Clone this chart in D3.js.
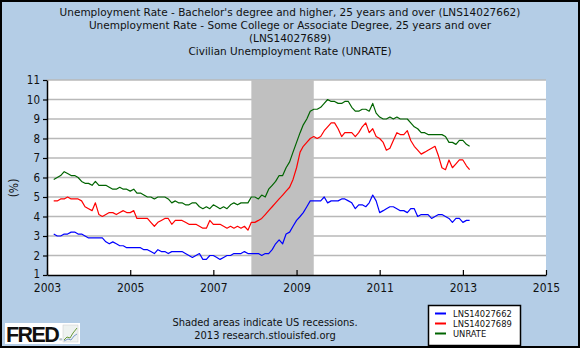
<!DOCTYPE html>
<html><head><meta charset="utf-8">
<script src="https://cdn.jsdelivr.net/npm/d3@7"></script>
<style>html,body{margin:0;padding:0;background:#fff;} svg{display:block;}</style>
</head><body>
<svg id="chart" width="580" height="348"></svg>
<script>
const titleLines = [
  "Unemployment Rate - Bachelor's degree and higher, 25 years and over (LNS14027662)",
  "Unemployment Rate - Some College or Associate Degree, 25 years and over",
  "(LNS14027689)",
  "Civilian Unemployment Rate (UNRATE)"
];
const startMonth = "2003-03-01";
const bachelors = [
  3.1,3.0,3.0,3.1,3.1,3.2,3.2,3.1,3.1,3.0,
  2.9,2.9,2.9,2.9,2.9,2.7,2.6,2.7,2.6,2.5,2.5,2.4,
  2.4,2.4,2.4,2.4,2.3,2.3,2.2,2.1,2.3,2.2,2.2,2.1,
  2.2,2.2,2.2,2.2,2.1,2.0,1.9,2.0,2.1,1.8,1.8,2.0,
  2.0,1.9,1.8,1.9,2.0,2.0,2.1,2.1,2.1,2.2,2.1,2.1,
  2.1,2.1,2.0,2.1,2.1,2.3,2.6,2.8,2.6,3.1,3.2,3.5,
  3.8,4.0,4.2,4.5,4.8,4.8,4.8,4.8,5.0,4.7,4.8,4.8,
  4.8,4.9,4.9,4.8,4.7,4.4,4.6,4.6,4.5,4.7,5.1,4.8,
  4.2,4.3,4.4,4.5,4.5,4.4,4.3,4.3,4.2,4.4,4.4,4.0,
  4.1,4.1,4.1,3.9,4.0,4.1,4.1,4.0,3.9,3.7,3.9,3.9,
  3.7,3.8,3.8
];
const someCollege = [
  4.8,4.8,4.9,4.9,5.0,4.9,4.9,4.9,4.8,4.5,
  4.4,4.3,4.7,4.1,4.0,4.1,4.2,4.2,4.1,4.2,4.3,4.2,
  4.2,4.3,3.9,3.9,3.9,3.9,3.7,3.5,3.7,3.8,3.9,3.9,
  3.6,3.8,3.8,3.8,3.7,3.6,3.6,3.6,3.5,3.4,3.4,3.8,
  3.6,3.6,3.6,3.5,3.4,3.5,3.4,3.5,3.4,3.5,3.3,3.7,
  3.7,3.8,3.9,4.1,4.3,4.5,4.7,4.9,5.1,5.3,5.5,5.9,
  6.5,7.3,7.6,7.8,8.0,8.1,8.0,8.1,8.4,8.6,8.8,8.8,
  8.5,8.1,8.3,8.3,8.3,8.1,8.3,8.6,8.8,8.3,8.5,8.1,
  8.0,7.8,7.4,7.5,7.9,8.3,8.2,8.2,8.4,7.9,7.6,7.4,
  7.2,7.3,7.4,7.5,7.6,7.1,6.5,6.4,6.9,6.5,6.7,6.9,
  6.9,6.6,6.4
];
const unrate = [
  5.9,6.0,6.1,6.3,6.2,6.1,6.1,6.0,5.8,5.7,
  5.7,5.6,5.8,5.6,5.6,5.6,5.5,5.4,5.4,5.5,5.4,5.4,
  5.3,5.4,5.2,5.2,5.1,5.0,5.0,4.9,5.0,5.0,5.0,4.9,
  4.7,4.8,4.7,4.7,4.6,4.6,4.7,4.7,4.5,4.4,4.5,4.4,
  4.6,4.5,4.4,4.5,4.4,4.6,4.7,4.6,4.7,4.7,4.7,5.0,
  5.0,4.9,5.1,5.0,5.4,5.6,5.8,6.1,6.1,6.5,6.8,7.3,
  7.8,8.3,8.7,9.0,9.4,9.5,9.5,9.6,9.8,10.0,9.9,9.9,
  9.8,9.8,9.9,9.9,9.6,9.4,9.4,9.5,9.5,9.4,9.8,9.3,
  9.1,9.0,9.0,9.1,9.0,9.1,9.0,9.0,9.0,8.8,8.6,8.5,
  8.3,8.3,8.2,8.2,8.2,8.2,8.2,8.1,7.8,7.8,7.7,7.9,
  7.9,7.7,7.6
];
const recessions = [["2007-12-01", "2009-06-01"]];
const yTicks = [1,2,3,4,5,6,7,8,9,10,11];
const xTickYears = ["2003","2005","2007","2009","2011","2013","2015"];
const legendLabels = ["LNS14027662","LNS14027689","UNRATE"];
const seriesColors = ["#0000ff","#ff0000","#006400"];
const footnotes = ["Shaded areas indicate US recessions.","2013 research.stlouisfed.org"];

const FONT = "'DejaVu Sans Condensed','DejaVu Sans',sans-serif";
const FONT_WIDE = "'DejaVu Sans',sans-serif";
const svg = d3.select("#chart");
const W = 580, H = 348;
const P = {left: 47, right: 546, top: 80, bottom: 275};
const parseDate = d3.timeParse("%Y-%m-%d");
const x = d3.scaleTime()
  .domain([parseDate("2003-01-01"), parseDate("2015-01-01")])
  .range([P.left, P.right]);
const y = d3.scaleLinear().domain([1, 11]).range([P.bottom, P.top]);

// background + frame
svg.append("rect").attr("x", 0).attr("y", 0).attr("width", W).attr("height", H).attr("fill", "#b4cde6");
svg.append("rect").attr("x", 1).attr("y", 1).attr("width", W - 2).attr("height", H - 2)
  .attr("fill", "none").attr("stroke", "#000").attr("stroke-width", 2);

// titles
svg.append("g").selectAll("text").data(titleLines).join("text")
  .attr("x", 290).attr("y", (d, i) => 16 + i * 13)
  .attr("text-anchor", "middle").attr("font-family", FONT_WIDE).attr("font-size", 10.5)
  .attr("fill", "#111").text(d => d);

// plot background
svg.append("rect").attr("x", P.left).attr("y", P.top)
  .attr("width", P.right - P.left).attr("height", P.bottom - P.top).attr("fill", "#fff");

// gridlines
svg.append("g").selectAll("line").data(yTicks.filter(t => t > 1)).join("line")
  .attr("x1", P.left).attr("x2", P.right)
  .attr("y1", d => y(d)).attr("y2", d => y(d))
  .attr("stroke", "#b8b8b8").attr("stroke-width", 1.6);

// recessions
svg.append("g").selectAll("rect").data(recessions).join("rect")
  .attr("x", d => x(parseDate(d[0])))
  .attr("width", d => x(parseDate(d[1])) - x(parseDate(d[0])))
  .attr("y", P.top).attr("height", P.bottom - P.top)
  .attr("fill", "#c0c0c0");

// series
const dates = bachelors.map((_, i) => d3.timeMonth.offset(parseDate(startMonth), i));
const series = [bachelors, someCollege, unrate];
const line = d3.line().x((d, i) => x(dates[i])).y(d => y(d));
svg.append("g").selectAll("path").data(series).join("path")
  .attr("d", d => line(d)).attr("fill", "none")
  .attr("stroke", (d, i) => seriesColors[i]).attr("stroke-width", 1.2)
  .attr("stroke-linejoin", "round");

// axes
const xAxis = d3.axisBottom(x)
  .tickValues(xTickYears.map(s => parseDate(s + "-01-01")))
  .tickFormat(d3.timeFormat("%Y")).tickSizeInner(-5).tickSizeOuter(0).tickPadding(8);
const gx = svg.append("g").attr("transform", `translate(0,${P.bottom})`).call(xAxis);
gx.selectAll("text").attr("font-family", FONT).attr("font-size", 12).attr("fill", "#111");

const yAxis = d3.axisLeft(y).tickValues(yTicks).tickFormat(d3.format("d"))
  .tickSizeInner(4).tickSizeOuter(0).tickPadding(3);
const gy = svg.append("g").attr("transform", `translate(${P.left},0)`).call(yAxis);
gy.selectAll("text").attr("font-family", FONT).attr("font-size", 11.5).attr("fill", "#111");
gy.selectAll(".tick").filter(d => d === 1).select("text").attr("dy", "0.2em");
[gx, gy].forEach(g => {
  g.select(".domain").attr("stroke", "#000").attr("stroke-width", 1.5);
  g.selectAll(".tick line").attr("stroke", "#000").attr("stroke-width", 1.2);
});

// y label
svg.append("text").attr("transform", "translate(18,188) rotate(-90)")
  .attr("text-anchor", "middle").attr("font-family", FONT).attr("font-size", 12)
  .attr("fill", "#111").text("(%)");

// footnotes
svg.append("g").selectAll("text").data(footnotes).join("text")
  .attr("x", 265).attr("y", (d, i) => 326 + i * 13)
  .attr("text-anchor", "middle").attr("font-family", FONT).attr("font-size", 11)
  .attr("fill", "#111").text(d => d);

// legend
const lg = svg.append("g");
lg.append("rect").attr("x", 428.5).attr("y", 305.5).attr("width", 92).attr("height", 40)
  .attr("fill", "#fff").attr("stroke", "#000").attr("stroke-width", 1.5);
const items = lg.selectAll("g.item").data(legendLabels).join("g")
  .attr("transform", (d, i) => `translate(435,${313.5 + i * 10})`);
items.append("line").attr("x1", 0).attr("x2", 11).attr("y1", 0).attr("y2", 0)
  .attr("stroke", (d, i) => seriesColors[i]).attr("stroke-width", 2);
items.append("text").attr("x", 18).attr("y", 3.4)
  .attr("font-family", FONT).attr("font-size", 9.3).attr("fill", "#111").text(d => d);

// FRED logo
const logo = svg.append("g");
logo.append("rect").attr("x", 5).attr("y", 323).attr("width", 75).attr("height", 21).attr("fill", "#fff");
const fredText = logo.append("text").attr("x", 6).attr("y", 342).attr("font-family", "'Liberation Sans',Arial,sans-serif")
  .attr("font-weight", "bold").attr("font-size", 21.5).attr("fill", "#111").attr("letter-spacing", -1.6).text("FRED");
const fredEnd = 6 + fredText.node().getComputedTextLength();
logo.append("text").attr("x", Math.max(fredEnd + 1, 57)).attr("y", 341).attr("font-family", "'Liberation Sans',Arial,sans-serif")
  .attr("font-size", 4).attr("fill", "#333").text("®");
const icon = logo.append("g").attr("transform", "translate(63,325)");
icon.append("rect").attr("width", 15).attr("height", 17).attr("fill", "#eef2f0").attr("stroke", "#ccc").attr("stroke-width", 0.5);
icon.append("path").attr("d", "M1,15 L4,12 L7,13 L10,8 L14,3").attr("fill", "none").attr("stroke", "#6a9a3a").attr("stroke-width", 1);
icon.append("path").attr("d", "M1,16 L5,14 L8,15 L11,11 L14,9").attr("fill", "none").attr("stroke", "#7a9ac8").attr("stroke-width", 1);
</script>
</body></html>
